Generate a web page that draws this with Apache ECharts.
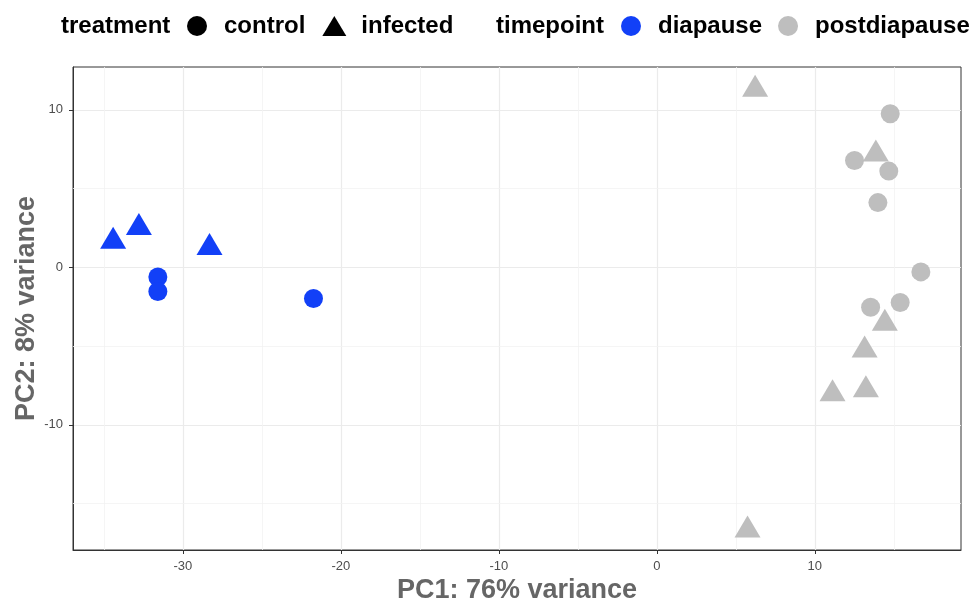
<!DOCTYPE html>
<html>
<head>
<meta charset="utf-8">
<script src="https://cdn.jsdelivr.net/npm/echarts@6/dist/echarts.min.js"></script>
<style>
  html, body { margin: 0; padding: 0; background: #fff; }
  #pca { width: 977px; height: 605px; }
</style>
</head>
<body>
<div id="pca"></div>
<script>
var myChart = echarts.init(document.getElementById('pca'));

// PCA scores
var diapauseControlX = [-31.58, -31.58, -21.73];
var diapauseControlY = [-0.62, -1.54, -1.98];
var diapauseInfectedX = [-34.41, -32.78, -28.31];
var diapauseInfectedY = [1.64, 2.52, 1.25];
var postControlX = [14.77, 12.51, 14.68, 13.99, 16.71, 15.40, 13.53];
var postControlY = [9.75, 6.78, 6.11, 4.11, -0.29, -2.23, -2.53];
var postInfectedX = [6.22, 13.86, 14.43, 13.15, 13.23, 11.12, 5.74];
var postInfectedY = [11.29, 7.18, -3.57, -5.26, -7.78, -8.04, -16.69];

var xTicks = [-30, -20, -10, 0, 10];
var yTicks = [-10, 0, 10];
var xMinor = [-35, -25, -15, -5, 5, 15];
var yMinor = [-15, -5, 5];

var blue = '#1240f7';
var grey = '#bebebe';
var font = 'Liberation Sans, Arial, Helvetica, sans-serif';

function pts(xs, ys) {
    return xs.map(function (x, i) { return [x, ys[i]]; });
}

var legendText = {fontSize: 24, fontWeight: 'bold', color: '#000', fontFamily: font,
                  padding: [0, 0, 0, 10], lineHeight: 20};

var option = {
    animation: false,
    graphic: [
        {type: 'text', left: 61, top: 14,
         style: {text: 'treatment', font: 'bold 24px ' + font, fill: '#000'}},
        {type: 'text', left: 496, top: 14,
         style: {text: 'timepoint', font: 'bold 24px ' + font, fill: '#000'}}
    ],
    legend: [
        {left: 187, top: 14, padding: 0, itemWidth: 24, itemHeight: 20, itemGap: 17,
         selectedMode: false, textStyle: legendText,
         data: [{name: 'control', icon: 'circle'}, {name: 'infected', icon: 'triangle'}]},
        {left: 621, top: 14, padding: 0, itemWidth: 24, itemHeight: 20, itemGap: 16,
         selectedMode: false, textStyle: legendText,
         data: [{name: 'diapause', icon: 'circle'}, {name: 'postdiapause', icon: 'circle'}]}
    ],
    grid: {left: 73, right: 16, top: 67, bottom: 55, show: true, outerBoundsMode: 'none',
           borderColor: '#333', borderWidth: 1},
    xAxis: {
        type: 'value', min: -36.95, max: 19.25,
        name: 'PC1: 76% variance', nameLocation: 'middle', nameGap: 27, nameMoveOverlap: false,
        nameTextStyle: {fontSize: 27, fontWeight: 'bold', color: '#666', fontFamily: font},
        axisLine: {show: true, onZero: false, lineStyle: {color: '#333'}},
        axisTick: {show: true, length: 4, lineStyle: {color: '#333'}, customValues: xTicks},
        axisLabel: {color: '#4d4d4d', fontSize: 13, fontFamily: font, margin: 10, customValues: xTicks},
        splitLine: {show: true, lineStyle: {color: '#ebebeb', width: 1.2}}
    },
    yAxis: {
        type: 'value', min: -17.95, max: 12.72,
        name: 'PC2: 8% variance', nameLocation: 'middle', nameGap: 33, nameMoveOverlap: false,
        nameTextStyle: {fontSize: 27, fontWeight: 'bold', color: '#666', fontFamily: font},
        axisLine: {show: true, onZero: false, lineStyle: {color: '#333'}},
        axisTick: {show: true, length: 4, lineStyle: {color: '#333'}, customValues: yTicks},
        axisLabel: {color: '#4d4d4d', fontSize: 13, fontFamily: font, margin: 10, customValues: yTicks},
        splitLine: {show: true, lineStyle: {color: '#ebebeb', width: 1.2}}
    },
    series: [
        {name: 'minor', type: 'scatter', data: [], silent: true, z: 1,
         markLine: {silent: true, symbol: 'none', label: {show: false}, z: 1,
                    lineStyle: {color: '#f3f3f3', width: 0.8, type: 'solid'},
                    emphasis: {disabled: true},
                    data: xMinor.map(function (v) { return {xAxis: v}; })
                          .concat(yMinor.map(function (v) { return {yAxis: v}; }))}},
        {name: 'control', type: 'scatter', data: [], itemStyle: {color: '#000', opacity: 1}},
        {name: 'infected', type: 'scatter', data: [], itemStyle: {color: '#000', opacity: 1}},
        {name: 'diapause', type: 'scatter', data: [], itemStyle: {color: blue, opacity: 1}},
        {name: 'postdiapause', type: 'scatter', data: [], itemStyle: {color: grey, opacity: 1}},
        {name: 'diapause control', type: 'scatter', symbol: 'circle', symbolSize: 19,
         itemStyle: {color: blue, opacity: 1}, z: 3, data: pts(diapauseControlX, diapauseControlY)},
        {name: 'diapause infected', type: 'scatter', symbol: 'triangle', symbolSize: [26, 22],
         symbolOffset: [0, -3.7], itemStyle: {color: blue, opacity: 1}, z: 3,
         data: pts(diapauseInfectedX, diapauseInfectedY)},
        {name: 'postdiapause control', type: 'scatter', symbol: 'circle', symbolSize: 19,
         itemStyle: {color: grey, opacity: 1}, z: 3, data: pts(postControlX, postControlY)},
        {name: 'postdiapause infected', type: 'scatter', symbol: 'triangle', symbolSize: [26, 22],
         symbolOffset: [0, -3.7], itemStyle: {color: grey, opacity: 1}, z: 3,
         data: pts(postInfectedX, postInfectedY)}
    ]
};

myChart.setOption(option);
</script>
</body>
</html>
